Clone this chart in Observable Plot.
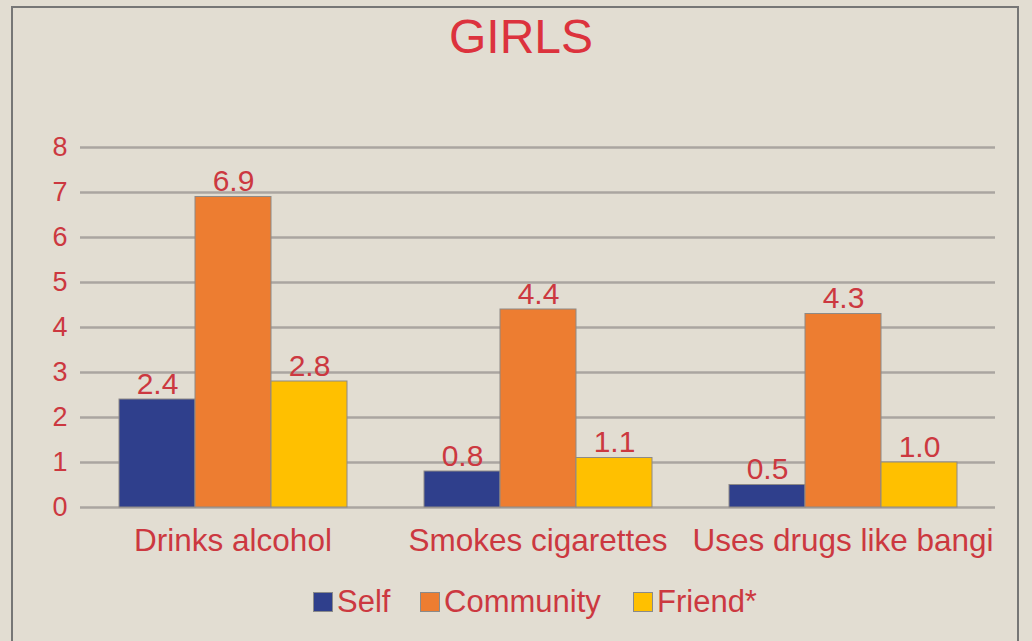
<!DOCTYPE html>
<html>
<head>
<meta charset="utf-8">
<script src="https://cdn.jsdelivr.net/npm/d3@7"></script>
<script src="https://cdn.jsdelivr.net/npm/@observablehq/plot@0.6"></script>
<style>
  html, body { margin: 0; padding: 0; background: #e2ddd2; }
  #wrap { position: relative; width: 1032px; height: 641px; overflow: hidden; background: #e2ddd2; font-family: "Liberation Sans", Arial, sans-serif; }
  #frame { position: absolute; left: 11px; top: 6px; width: 1008px; height: 660px; border: 2px solid #767676; box-sizing: border-box; }
  #title { position: absolute; top: 13px; left: 10px; width: 1022px; text-align: center; font-size: 48px; line-height: 48px; color: #dc323d; }
  #chart { position: absolute; left: 0; top: 80px; }
  .leg { position: absolute; top: 586px; height: 31px; display: flex; align-items: center; font-size: 31px; line-height: 31px; color: #cc3840; }
  .sw { width: 18px; height: 18px; border: 1px solid #8a8a8a; margin-right: 4px; }
</style>
</head>
<body>
<div id="wrap">
  <div id="frame"></div>
  <div id="title">GIRLS</div>
  <div id="chart"></div>
  <div id="legend"></div>
</div>
<script>
const categories = ["Drinks alcohol", "Smokes cigarettes", "Uses drugs like bangi"];
const seriesNames = ["Self", "Community", "Friend*"];
const selfValues = [2.4, 0.8, 0.5];
const communityValues = [6.9, 4.4, 4.3];
const friendValues = [2.8, 1.1, 1.0];
const seriesColors = ["#2f3f8c", "#ed7d31", "#ffc000"];
const yTicks = [0, 1, 2, 3, 4, 5, 6, 7, 8];

const seriesValues = [selfValues, communityValues, friendValues];
const data = [];
categories.forEach((c, i) => {
  seriesNames.forEach((s, j) => {
    data.push({category: c, series: s, value: seriesValues[j][i]});
  });
});

const red = "#cc3840";

const chart = Plot.plot({
  width: 1032,
  height: 500,
  marginTop: 67,
  marginBottom: 73,
  marginLeft: 79,
  marginRight: 36,
  style: {background: "transparent", color: red, fontFamily: "'Liberation Sans', Arial, sans-serif"},
  fx: {domain: categories, padding: 0, label: null},
  x: {domain: seriesNames, paddingInner: 0, paddingOuter: 0.5, axis: null},
  y: {domain: [0, 8], label: null},
  color: {domain: seriesNames, range: seriesColors},
  marks: [
    Plot.ruleY(yTicks, {stroke: "#aaa5a0", strokeWidth: 2.5}),
    Plot.barY(data, {fx: "category", x: "series", y: "value", fill: "series", stroke: "#8e8a86", strokeWidth: 1, inset: 0}),
    Plot.text(data, {fx: "category", x: "series", y: "value", text: d => d.value.toFixed(1), lineAnchor: "bottom", dy: -6, fontSize: 30, fill: red}),
    Plot.axisY(yTicks, {anchor: "left", tickSize: 0, tickPadding: 13, fontSize: 27, label: null, tickFormat: d => String(d)}),
    Plot.axisFx({anchor: "bottom", tickSize: 0, tickPadding: 21, fontSize: 31.5, label: null})
  ]
});
document.getElementById("chart").appendChild(chart);

const legend = document.getElementById("legend");
const legLefts = [313, 420, 633];
seriesNames.forEach((s, i) => {
  const item = document.createElement("div");
  item.className = "leg";
  item.style.left = legLefts[i] + "px";
  const sw = document.createElement("div");
  sw.className = "sw";
  sw.style.background = seriesColors[i];
  const t = document.createElement("span");
  t.textContent = s;
  item.appendChild(sw);
  item.appendChild(t);
  legend.appendChild(item);
});
</script>
</body>
</html>
